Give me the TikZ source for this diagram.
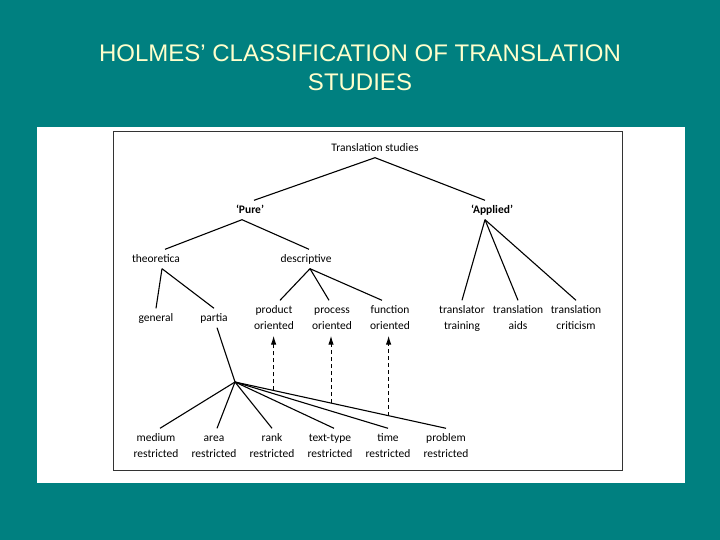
\documentclass[tikz,border=0pt]{standalone}
\usepackage{fontspec}
\setmainfont{Carlito}
\newfontfamily\titlefont{Liberation Sans}
\usetikzlibrary{positioning}
\usetikzlibrary{calc}
\usetikzlibrary{arrows.meta}
\definecolor{slideteal}{RGB}{0,128,128}
\definecolor{titleyellow}{RGB}{255,255,204}
\newcommand{\twoline}[2]{\strut#1\\\strut#2}

\begin{document}
\begin{tikzpicture}
		[x=1pt, y=1pt, on grid,
		term/.style={align=center, font=\fontsize{11.5}{16}\selectfont, inner sep=1.5pt},
		branch/.style={term, font=\fontsize{11.5}{16}\selectfont\bfseries},
		link/.style={line width=1.1pt},
		cross/.style={line width=1pt, dash pattern=on 4pt off 3pt, -{Latex[length=9pt, width=5.5pt]}}]
		\fill[slideteal] (0,0) rectangle (720,-540);
		\fill[white] (37,-127) rectangle (685,-483);
		\draw[black!80, line width=1pt] (113,-132) rectangle (622,-470);
		\node[align=center, text=titleyellow, font=\titlefont\fontsize{24}{29}\selectfont] (title) at (360,-67.5)
			{HOLMES’ CLASSIFICATION OF TRANSLATION\\STUDIES};

		\node[term] (ts) at (375,-148) {\strut Translation studies};
		\node[branch, below left=62 and 125 of ts] (pure) {\strut ‘Pure’};
		\node[branch, below right=62 and 117 of ts] (applied) {\strut ‘Applied’};
		\node[term, below left=49 and 94 of pure] (theo) {\strut theoretica};
		\node[term, below right=49 and 56 of pure] (desc) {\strut descriptive};
		\node[term, below=59 of theo] (gen) {\strut general};
		\node[term, right=58 of gen] (part) {\strut partia};
		\node[term, right=60 of part] (prod) {\twoline{product}{oriented}};
		\node[term, right=58 of prod] (proc) {\twoline{process}{oriented}};
		\node[term, right=58 of proc] (func) {\twoline{function}{oriented}};
		\node[term, right=72 of func] (trans) {\twoline{translator}{training}};
		\node[term, right=56 of trans] (aids) {\twoline{translation}{aids}};
		\node[term, right=58 of aids] (crit) {\twoline{translation}{criticism}};
		\node[term, below=128 of gen] (med) {\twoline{medium}{restricted}};
		\node[term, right=58 of med] (area) {\twoline{area}{restricted}};
		\node[term, right=58 of area] (rank) {\twoline{rank}{restricted}};
		\node[term, right=58 of rank] (type) {\twoline{text-type}{restricted}};
		\node[term, right=58 of type] (time) {\twoline{time}{restricted}};
		\node[term, right=58 of time] (prob) {\twoline{problem}{restricted}};
		\coordinate (hub) at (235,-382);

		\draw[link] (ts.south) -- ([xshift=4pt]pure.north);
		\draw[link] (ts.south) -- ([xshift=-7pt]applied.north);
		\draw[link] ([xshift=-8pt]pure.south) -- ([xshift=9pt]theo.north);
		\draw[link] ([xshift=-8pt]pure.south) -- ([xshift=3pt]desc.north);
		\draw[link] ([xshift=6pt]theo.south) -- (gen.north);
		\draw[link] ([xshift=6pt]theo.south) -- (part.north);
		\draw[link] ([xshift=4pt]desc.south) -- ([xshift=6pt]prod.north);
		\draw[link] ([xshift=4pt]desc.south) -- ([xshift=-3pt]proc.north);
		\draw[link] ([xshift=4pt]desc.south) -- ([xshift=-8pt]func.north);
		\draw[link] ([xshift=-7pt]applied.south) -- (trans.north);
		\draw[link] ([xshift=-7pt]applied.south) -- (aids.north);
		\draw[link] ([xshift=-7pt]applied.south) -- (crit.north);
		\draw[link] ([xshift=3pt]part.south) -- (hub);
		\draw[link] (hub) -- ([xshift=4pt]med.north);
		\draw[link] (hub) -- ([xshift=3pt]area.north);
		\draw[link] (hub) -- (rank.north);
		\draw[link] (hub) -- ([xshift=4pt]type.north);
		\draw[link] (hub) -- (time.north);
		\draw[link] (hub) -- (prob.north);

		\coordinate (d1) at ($(hub)!.183!(prob.north)$);
		\coordinate (d2) at ($(hub)!.455!(prob.north)$);
		\coordinate (d3) at ($(hub)!.728!(prob.north)$);
		\draw[cross] (d1) -- (d1 |- prod.south);
		\draw[cross] (d2) -- (d2 |- proc.south);
		\draw[cross] (d3) -- (d3 |- func.south);
	\end{tikzpicture}
\end{document}
